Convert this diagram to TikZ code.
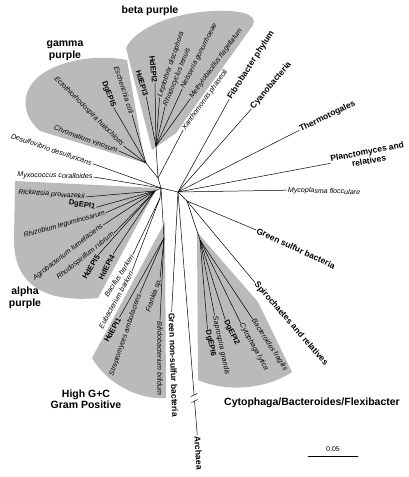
\documentclass[tikz,border=0pt]{standalone}
\usepackage{fontspec}
\setmainfont{Liberation Sans}
\usetikzlibrary{calc}

\begin{document}
\begin{tikzpicture}[x=1pt, y=-1pt,
  taxon/.style={font=\fontsize{7.1}{8}\selectfont\itshape, inner sep=1pt},
  clone/.style={font=\fontsize{7.6}{9}\selectfont\bfseries, inner sep=1pt},
  phylum/.style={font=\fontsize{8.5}{9.5}\selectfont\bfseries, inner sep=1pt, align=center},
  group/.style={font=\fontsize{10.5}{11.5}\selectfont\bfseries, align=center, inner sep=0pt},
  clade/.style={fill=black!27, draw=none},
  branch/.style={line width=0.5pt, line cap=round}
]
  \useasboundingbox (0,0) rectangle (409,477);

  % shaded clades
  \fill[clade] (152,150) -- (126,48) .. controls (135,28) and (175,12) .. (215,11)
    .. controls (240,10) and (258,14) .. (253,25) -- (176,133) -- cycle;
  \fill[clade] (145,163) -- (40,131) .. controls (18,112) and (22,86) .. (45,72)
    .. controls (68,58) and (102,55) .. (127,60) -- cycle;
  \fill[clade] (157,188) -- (15,181) -- (14,240) .. controls (14,285) and (45,303) .. (98,298) -- cycle;
  \fill[clade] (165,222) -- (166,398) .. controls (140,400) and (108,385) .. (92,358) -- cycle;
  \fill[clade] (197,232) -- (198,380) .. controls (225,392) and (265,390) .. (292,372)
    -- (258,302) -- cycle;

  % inner tree
  \coordinate (hubL) at (161,188);
  \coordinate (hubR) at (178,192);
  \coordinate (proteo) at (158,178);
  \coordinate (beta) at (156,146);
  \coordinate (gamma) at (146,163);
  \coordinate (alpha) at (155,191);
  \coordinate (lowgc) at (160,198);
  \coordinate (highgc) at (164,238);
  \coordinate (spiro) at (187,201);
  \coordinate (cfb) at (200,240);

  % beta purple
  \node[clone, rotate=-84] (hdepi2) at (153.5,69) {HdEPI2};
  \node[clone, rotate=-73] (hdepi3) at (142,83) {HdEPI3};
  \node[taxon, rotate=71] (lepto) at (171,64.5) {Leptothrix discophora};
  \node[taxon, rotate=68] (rhodoc) at (177,77) {Rhodocyclus tenuis};
  \node[taxon, rotate=63] (neiss) at (199,56) {Neisseria gonorrhoeae};
  \node[taxon, rotate=54] (methyl) at (216,63.5) {Methylobacillus flagellatum};
  \node[taxon, rotate=54] (xantho) at (205,100) {Xanthomonas phaseoli};

  % gamma purple
  \node[taxon, rotate=-72] (ecoli) at (124,90) {Escherichia coli};
  \node[clone, rotate=-69] (dgepi5) at (108.5,94) {DgEPI5};
  \node[taxon, rotate=-45] (ectho) at (89,111.5) {Ectothiorhodospira halochloris};
  \node[taxon, rotate=-20] (chrom) at (86,139) {Chromatium vinosum};

  \node[taxon, rotate=-19] (desulfo) at (51.5,149.5) {Desulfovibrio desulfuricans};
  \node[taxon, rotate=-1.5] (myxo) at (55,176) {Myxococcus coralloides};

  % alpha purple
  \node[taxon, rotate=-4] (ricket) at (51.5,194.5) {Rickettsia prowazekii};
  \node[clone, rotate=-9] (dgepi1) at (82,205) {DgEPI1};
  \node[taxon, rotate=16] (rhizob) at (64.5,224.5) {Rhizobium leguminosarum};
  \node[taxon, rotate=38] (agrob) at (68,252.5) {Agrobacterium tumefaciens};
  \node[taxon, rotate=39] (rhodsp) at (85.5,256) {Rhodospirillum rubrum};
  \node[clone, rotate=59] (hdepi5) at (91,267) {HdEPI5};
  \node[clone, rotate=63] (hdepi4) at (106.5,267) {HdEPI4};

  \node[taxon, rotate=57] (bacil) at (119,276) {Bacillus barkeri};
  \node[taxon, rotate=61] (eubac) at (116,300) {Eubacterium barkeri};

  % high G+C
  \node[clone, rotate=61] (hdepi1) at (112.5,330) {HdEPI1};
  \node[taxon, rotate=71] (strep) at (125.5,335) {Streptomyces ambofaciens};
  \node[taxon, rotate=71] (frank) at (154,295.5) {Frankia sp.};
  \node[taxon, rotate=-90] (bifid) at (160,358.5) {Bifidobacterium bifidum};

  \node[phylum, rotate=-88] (gnsb) at (173.5,365) {Green non-sulfur bacteria};
  \node[phylum, rotate=-86] (arch) at (198.5,453) {Archaea};

  % cytophaga
  \node[clone, rotate=-78] (dgepi6) at (210.5,343.5) {DgEPI6};
  \node[taxon, rotate=-78] (sapro) at (221,345.5) {Saprospira grandis};
  \node[clone, rotate=-64] (dgepi2) at (231.5,332.5) {DgEPI2};
  \node[taxon, rotate=-61] (cytoph) at (254,347) {Cytophaga lytica};
  \node[taxon, rotate=-57] (bacter) at (269.5,345) {Bacteroides fragilis};

  \node[phylum, rotate=-49] (spirochaetes) at (291,324) {Spirochaetes and relatives};
  \node[phylum, rotate=-25] (gsb) at (296,248.5) {Green sulfur bacteria};
  \node[taxon, rotate=-2] (myco) at (324,191.5) {Mycoplasma flocculare};
  \node[phylum, rotate=11] (plancto) at (368,156) {Planctomyces and\\relatives};
  \node[phylum, rotate=26] (thermo) at (327.5,116.5) {Thermotogales};
  \node[phylum, rotate=50] (cyano) at (271,85.5) {Cyanobacteria};
  \node[phylum, rotate=57.5] (fibro) at (251,65) {Fibrobacter phylum};

  % group names
  \node[group] (betaname) at (150,11) {beta purple};
  \node[group] (gammaname) at (65,51) {gamma\\purple};
  \node[group] (alphaname) at (25,298) {alpha\\purple};
  \node[group] (highgcname) at (86,399) {High G+C\\Gram Positive};
  \node[group] (cfbname) at (312,403) {Cytophaga/Bacteroides/Flexibacter};

  % branches
  \draw[branch] (hubL) -- (hubR);
  \draw[branch] (proteo) -- (hubL);
  \draw[branch] (beta) -- (proteo);
  \draw[branch] (gamma) -- (proteo);
  \draw[branch] (alpha) -- (hubL);
  \draw[branch] (lowgc) -- (hubL);
  \draw[branch] (highgc) -- (hubL);
  \draw[branch] (spiro) -- (hubR);
  \draw[branch] (cfb) -- (spiro);

  \draw[branch] (beta) -- (hdepi2.east);
  \draw[branch] (beta) -- (hdepi3.east);
  \draw[branch] (beta) -- (lepto.west);
  \draw[branch] (beta) -- (rhodoc.west);
  \draw[branch] (beta) -- (neiss.west);
  \draw[branch] (beta) -- (methyl.west);
  \draw[branch] (proteo) -- (xantho.west);

  \draw[branch] (gamma) -- (ecoli.east);
  \draw[branch] (gamma) -- (dgepi5.east);
  \draw[branch] (gamma) -- (ectho.east);
  \draw[branch] (gamma) -- (chrom.east);

  \draw[branch] (hubL) -- (desulfo.east);
  \draw[branch] (hubL) -- (myxo.east);

  \draw[branch] (alpha) -- (ricket.east);
  \draw[branch] (alpha) -- (dgepi1.east);
  \draw[branch] (alpha) -- (rhizob.east);
  \draw[branch] (alpha) -- (agrob.east);
  \draw[branch] (alpha) -- (rhodsp.east);
  \draw[branch] (alpha) -- (hdepi5.east);
  \draw[branch] (alpha) -- (hdepi4.east);

  \draw[branch] (lowgc) -- (bacil.east);
  \draw[branch] (lowgc) -- (eubac.east);

  \draw[branch] (highgc) -- (hdepi1.east);
  \draw[branch] (highgc) -- (strep.east);
  \draw[branch] (highgc) -- (frank.east);
  \draw[branch] (highgc) -- (bifid.west);

  \draw[branch] (hubR) -- (gnsb.west);
  \coordinate (brk1) at ($(hubR)!0.835!(arch.west)$);
  \coordinate (brk2) at ($(hubR)!0.86!(arch.west)$);
  \draw[branch] (hubR) -- (brk1);
  \draw[branch] (brk2) -- (arch.west);
  \draw[branch] ([shift={(-3,1.5)}]brk1) -- ([shift={(3,-1.5)}]brk1);
  \draw[branch] ([shift={(-3,1.5)}]brk2) -- ([shift={(3,-1.5)}]brk2);

  \draw[branch] (cfb) -- (dgepi6.west);
  \draw[branch] (cfb) -- (sapro.west);
  \draw[branch] (cfb) -- (dgepi2.west);
  \draw[branch] (cfb) -- (cytoph.west);
  \draw[branch] (cfb) -- (bacter.west);

  \draw[branch] (spiro) -- (spirochaetes.west);
  \draw[branch] (spiro) -- (gsb.west);
  \draw[branch] (hubR) -- (myco.west);
  \draw[branch] (hubR) -- (plancto.west);
  \draw[branch] (hubR) -- (thermo.west);
  \draw[branch] (hubR) -- (cyano.west);
  \draw[branch] (hubR) -- (fibro.west);

  % scale bar
  \node[font=\fontsize{7}{8}\selectfont] (scale) at (333,449) {0.05};
  \coordinate (sbL) at (308,456);
  \coordinate (sbR) at (358,456);
  \draw[branch] (sbL) -- (sbR);
\end{tikzpicture}
\end{document}
